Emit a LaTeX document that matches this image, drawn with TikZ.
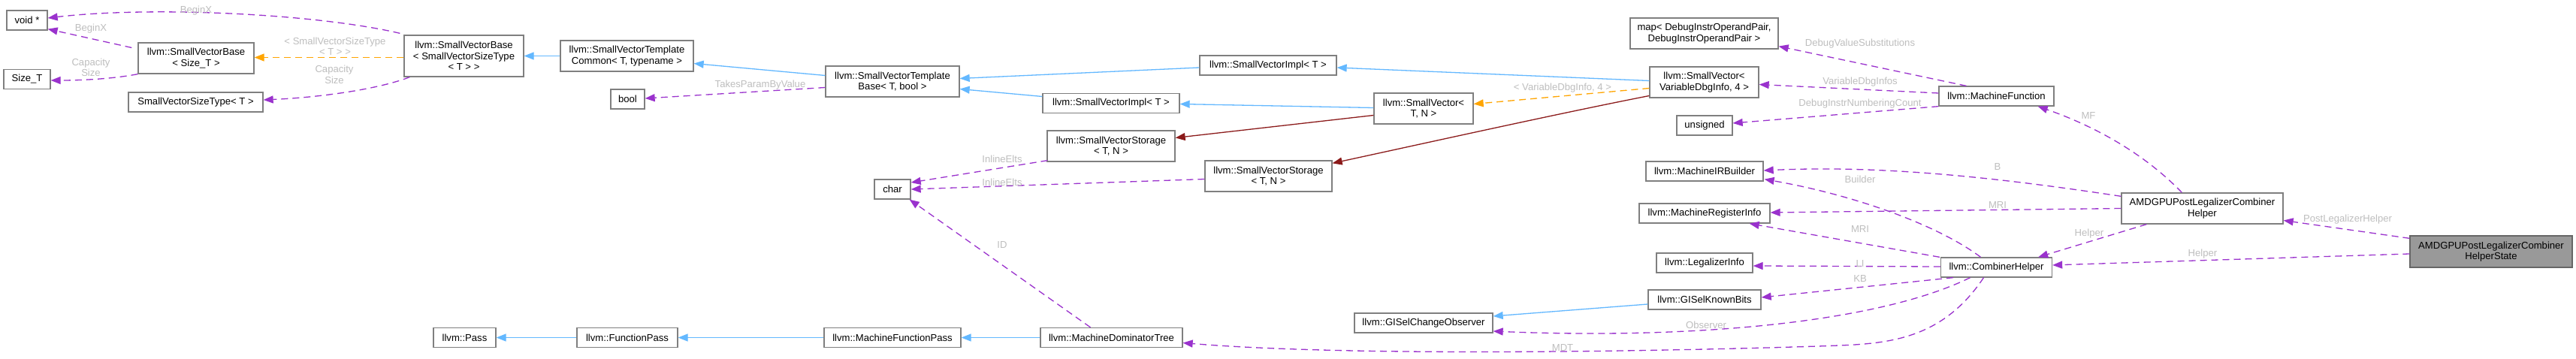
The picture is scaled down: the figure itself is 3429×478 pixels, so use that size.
\documentclass[tikz,border=0pt]{standalone}
\usepackage{fontspec}
\setmainfont{Liberation Sans}
\usetikzlibrary{arrows.meta,calc}
\definecolor{edgepurple}{HTML}{9A32CD}
\definecolor{edgeblue}{HTML}{63B8FF}
\definecolor{edgeorange}{HTML}{FFA500}
\definecolor{edgered}{HTML}{8B1A1A}
\definecolor{lblgray}{HTML}{BEBEBE}
\definecolor{boxline}{HTML}{7F7F7F}
\definecolor{focusfill}{HTML}{999999}
\definecolor{focusline}{HTML}{666666}
\newcommand\dgfont{\fontsize{13.1}{14.5}\selectfont}
\tikzset{
  cls/.style={draw=boxline, line width=1.3pt, fill=white, inner sep=0pt, align=center, font=\dgfont, minimum height=26pt},
  focus/.style={cls, draw=focusline, fill=focusfill},
  lbl/.style={font=\dgfont, text=lblgray, inner sep=0pt, align=center},
  tipa/.style={-{Triangle[length=13pt,width=10pt]}},
  useedge/.style={tipa, draw=edgepurple, line width=1.3pt, dash pattern=on 9pt off 6pt},
  inhedge/.style={tipa, draw=edgeblue, line width=1.3pt},
  tmpledge/.style={tipa, draw=edgeorange, line width=1.3pt, dash pattern=on 9pt off 6pt},
  protedge/.style={tipa, draw=edgered, line width=1.3pt},
}
\begin{document}
\begin{tikzpicture}[x=1pt,y=-1pt]
\fill[white] (0,0) rectangle (3429,478);
\useasboundingbox (0,0) rectangle (3429,478);

% classes
\node[cls, minimum width=54pt] (voidp) at (36,27) {void *};
\node[cls, minimum width=154pt, minimum height=41pt] (svbsize) at (261,77.5) {llvm::SmallVectorBase\\< Size\_T >};
\node[cls, minimum width=62pt] (sizet) at (36,105.5) {Size\_T};
\node[cls, minimum width=179pt] (svst) at (260.5,136) {SmallVectorSizeType< T >};
\node[cls, minimum width=159pt, minimum height=55pt] (svbsvst) at (617.5,74.5) {llvm::SmallVectorBase\\< SmallVectorSizeType\\< T > >};
\node[cls, minimum width=177pt, minimum height=41pt] (svtc) at (834.5,74.5) {llvm::SmallVectorTemplate\\Common< T, typename >};
\node[cls, minimum width=45pt] (bool) at (835.5,132) {bool};
\node[cls, minimum width=178pt, minimum height=41pt] (svtb) at (1188,108.5) {llvm::SmallVectorTemplate\\Base< T, bool >};
\node[cls, minimum width=182pt] (svimpl1) at (1688,87) {llvm::SmallVectorImpl< T >};
\node[cls, minimum width=182pt] (svimpl2) at (1479,137.5) {llvm::SmallVectorImpl< T >};
\node[cls, minimum width=132pt, minimum height=41pt] (svtn) at (1895,144.5) {llvm::SmallVector<\\T, N >};
\node[cls, minimum width=170pt, minimum height=41pt] (svstor1) at (1479,194.5) {llvm::SmallVectorStorage\\< T, N >};
\node[cls, minimum width=169pt, minimum height=41pt] (svstor2) at (1688.5,234.5) {llvm::SmallVectorStorage\\< T, N >};
\node[cls, minimum width=48pt] (char) at (1188,252) {char};
\node[cls, minimum width=197pt, minimum height=41pt] (map) at (2268.5,44.5) {map< DebugInstrOperandPair,\\DebugInstrOperandPair >};
\node[cls, minimum width=145pt, minimum height=41pt] (svvdi) at (2268.5,109.5) {llvm::SmallVector<\\VariableDbgInfo, 4 >};
\node[cls, minimum width=74pt] (unsigned) at (2269,167) {unsigned};
\node[cls, minimum width=153pt] (mf) at (2657.5,128) {llvm::MachineFunction};
\node[cls, minimum width=156pt] (mirb) at (2269,228) {llvm::MachineIRBuilder};
\node[cls, minimum width=174pt] (mri) at (2269,284) {llvm::MachineRegisterInfo};
\node[cls, minimum width=128pt] (li) at (2269,350) {llvm::LegalizerInfo};
\node[cls, minimum width=150pt] (gkb) at (2269,399) {llvm::GISelKnownBits};
\node[cls, minimum width=148pt] (ch) at (2657.5,356) {llvm::CombinerHelper};
\node[cls, minimum width=215pt, minimum height=41pt] (amdh) at (2931.5,277.5) {AMDGPUPostLegalizerCombiner\\Helper};
\node[focus, minimum width=216pt, minimum height=42pt] (state) at (3316,335) {AMDGPUPostLegalizerCombiner\\HelperState};
\node[cls, minimum width=184pt] (gco) at (1895,430) {llvm::GISelChangeObserver};
\node[cls, minimum width=189pt] (mdt) at (1479.5,449.5) {llvm::MachineDominatorTree};
\node[cls, minimum width=182pt] (mfp) at (1188,449.5) {llvm::MachineFunctionPass};
\node[cls, minimum width=134pt] (fp) at (835,449.5) {llvm::FunctionPass};
\node[cls, minimum width=83pt] (pass) at (618.5,449.5) {llvm::Pass};

% inheritance (blue)
\draw[inhedge] (svtc.west) -- (svbsvst.east);
\draw[inhedge] ($(svtb.west)+(0,-8)$) -- ($(svtc.east)+(0,10)$);
\draw[inhedge] ($(svimpl1.west)+(0,3)$) -- ($(svtb.east)+(0,-4)$);
\draw[inhedge] ($(svimpl2.west)+(0,-9)$) -- ($(svtb.east)+(0,10)$);
\draw[inhedge] ($(svvdi.west)+(0,-2)$) -- ($(svimpl1.east)+(0,3)$);
\draw[inhedge] ($(svtn.west)+(0,-1)$) -- ($(svimpl2.east)+(0,1)$);
\draw[inhedge] ($(gkb.west)+(0,6)$) -- ($(gco.east)+(0,-9)$);
\draw[inhedge] (mdt.west) -- (mfp.east);
\draw[inhedge] (mfp.west) -- (fp.east);
\draw[inhedge] (fp.west) -- (pass.east);

% protected inheritance (dark red)
\draw[protedge] ($(svtn.west)+(0,9)$) -- ($(svstor1.east)+(0,-11)$);
\draw[protedge] ($(svvdi.west)+(0,18)$) .. controls (2080,150) and (1900,190) .. ($(svstor2.north east)+(0,4)$);

% template instances (orange)
\draw[tmpledge] ($(svbsvst.west)+(0,2)$) -- ($(svbsize.east)+(0,-1)$);
\draw[tmpledge] ($(svvdi.west)+(0,8)$) -- ($(svtn.east)+(0,-6)$);

% usage (purple dashed)
\draw[useedge] ($(svbsvst.north west)+(-5,-2)$) .. controls (420,18) and (200,8) .. ($(voidp.east)+(0,-3)$);
\draw[useedge] ($(svbsize.west)+(-8,-14)$) -- ($(voidp.south east)+(0,-2)$);
\draw[useedge] (svbsize.south west) .. controls (150,105) and (110,107) .. ($(sizet.east)+(0,1.5)$);
\draw[useedge] ($(svbsvst.south west)+(8,0)$) .. controls (500,120) and (420,130) .. ($(svst.east)+(0,-3)$);
\draw[useedge] ($(svtb.west)+(0,8)$) -- ($(bool.east)+(0,-1)$);
\draw[useedge] ($(svstor1.south west)+(1,-2)$) -- ($(char.east)+(0,-9)$);
\draw[useedge] ($(svstor2.west)+(0,4)$) -- (char.east);
\draw[useedge] ($(mdt.north)+(-28,0)$) -- ($(char.south east)+(-2,0)$);
\draw[useedge] ($(mf.north west)+(37,0)$) -- ($(map.south east)+(0,-4)$);
\draw[useedge] ($(mf.west)+(0,-4)$) -- ($(svvdi.east)+(0,3)$);
\draw[useedge] (mf.south west) -- ($(unsigned.east)+(0,-3)$);
\draw[useedge] ($(amdh.north west)+(81,0)$) .. controls (2850,200) and (2780,165) .. ($(mf.south east)+(-22,0)$);
\draw[useedge] ($(amdh.north west)+(0,5)$) .. controls (2650,235) and (2500,220) .. ($(mirb.east)+(0,-1)$);
\draw[useedge] ($(ch.north)+(-21,0)$) .. controls (2580,300) and (2470,260) .. ($(mirb.south east)+(1,-3)$);
\draw[useedge] (amdh.west) -- ($(mri.east)+(0,-1)$);
\draw[useedge] ($(ch.north west)+(-1,0)$) -- ($(mri.south east)+(-28,0)$);
\draw[useedge] ($(ch.west)+(0,-1)$) -- ($(li.east)+(0,4)$);
\draw[useedge] ($(ch.south west)+(17,0)$) -- ($(gkb.east)+(0,-3)$);
\draw[useedge] ($(ch.south)+(-35,0)$) .. controls (2500,430) and (2250,452) .. ($(gco.east)+(0,11)$);
\draw[useedge] ($(ch.south)+(-17,0)$) .. controls (2580,460) and (2500,458) .. (2420,461) .. controls (2200,468) and (1800,475) .. ($(mdt.east)+(0,7)$);
\draw[useedge] ($(amdh.south west)+(34,0)$) -- ($(ch.north east)+(-19,0)$);
\draw[useedge] ($(state.north west)+(0,4)$) -- ($(amdh.east)+(0,16)$);
\draw[useedge] ($(state.west)+(0,3)$) -- ($(ch.east)+(0,-3)$);

% labels
\node[lbl] (lbeginx1) at (261,14) {BeginX};
\node[lbl] (lbeginx2) at (121,38) {BeginX};
\node[lbl] (ltmpl1) at (446,62) {< SmallVectorSizeType\\< T > >};
\node[lbl] (lcap1) at (121,90) {Capacity\\Size};
\node[lbl] (lcap2) at (445,99.5) {Capacity\\Size};
\node[lbl] (ltakes) at (1012,113) {TakesParamByValue};
\node[lbl] (linl1) at (1334,212) {InlineElts};
\node[lbl] (linl2) at (1334,243) {InlineElts};
\node[lbl] (lid) at (1334,326) {ID};
\node[lbl] (ltmpl2) at (2080,117) {< VariableDbgInfo, 4 >};
\node[lbl] (ldvs) at (2476,58) {DebugValueSubstitutions};
\node[lbl] (lvdi) at (2476,109) {VariableDbgInfos};
\node[lbl] (ldinc) at (2476,138) {DebugInstrNumberingCount};
\node[lbl] (lmf) at (2780,154) {MF};
\node[lbl] (lb) at (2659,222) {B};
\node[lbl] (lbuilder) at (2476,239) {Builder};
\node[lbl] (lmri1) at (2659,273) {MRI};
\node[lbl] (lmri2) at (2476,305) {MRI};
\node[lbl] (lli) at (2476,351) {LI};
\node[lbl] (lkb) at (2476,371) {KB};
\node[lbl] (lobs) at (2271,433) {Observer};
\node[lbl] (lmdt) at (2080,463) {MDT};
\node[lbl] (lhelper1) at (2781,311) {Helper};
\node[lbl] (lhelper2) at (2932,338) {Helper};
\node[lbl] (lplh) at (3125,292) {PostLegalizerHelper};
\end{tikzpicture}
\end{document}
